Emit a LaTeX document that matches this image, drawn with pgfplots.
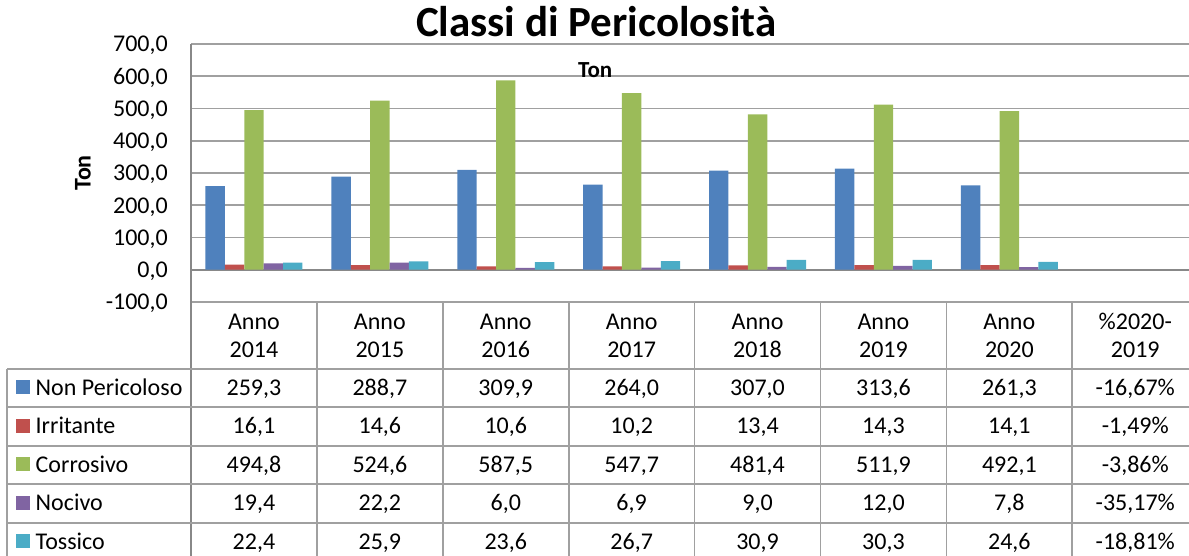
\documentclass[border=0pt]{standalone}
\usepackage{pgfplots}
\pgfplotsset{compat=1.18}
\usepackage{fontspec}
\setmainfont{Carlito}
\definecolor{cBlue}{HTML}{4F81BD}
\definecolor{cRed}{HTML}{C0504D}
\definecolor{cGreen}{HTML}{9BBB59}
\definecolor{cPurple}{HTML}{8064A2}
\definecolor{cCyan}{HTML}{4BACC6}
\definecolor{gridgray}{HTML}{A0A0A0}
\definecolor{axisgray}{HTML}{888888}
\newcommand\tf{\fontsize{24}{27}\selectfont}
\newcommand\cell[3]{\node[anchor=base, font=\tf, inner sep=0pt] at ({191+125.9*(#1+0.5)}, #2) {#3};}
\begin{document}
\begin{tikzpicture}
\begin{axis}[
  at={(191pt,254pt)}, anchor=south west,
  scale only axis, width=998pt, height=258pt,
  xmin=-0.5, xmax=7.427, ymin=-100, ymax=700,
  ytick={-100,0,100,200,300,400,500,600,700},
  xtick=\empty,
  ymajorgrids, grid style={draw=gridgray, line width=1.7pt},
  extra y ticks={0}, extra y tick labels={},
  extra y tick style={grid style={draw=axisgray, line width=1.9pt}},
  axis line style={draw=none},
  major tick length=0pt,
  yticklabel style={font=\tf, inner sep=0pt, xshift=-23pt, text depth=0pt,
    /pgf/number format/.cd, fixed, fixed zerofill, precision=1, use comma, 1000 sep={}, assume math mode=true},
  ylabel={Ton},
  ylabel style={font=\bfseries\fontsize{24}{27}\selectfont, at={(axis description cs:-0.1082,0.5)}, anchor=center},
  title={Classi di Pericolosità},
  title style={font=\bfseries\fontsize{43}{47}\selectfont, at={(axis description cs:0.406,1.004)}, anchor=base, inner sep=0pt},
  ybar=0pt, bar width=19.4pt,
  clip=false,
]
\addplot[fill=cBlue, draw=none] coordinates {(0,259.3) (1,288.7) (2,309.9) (3,264.0) (4,307.0) (5,313.6) (6,261.3)};
\addplot[fill=cRed, draw=none] coordinates {(0,16.1) (1,14.6) (2,10.6) (3,10.2) (4,13.4) (5,14.3) (6,14.1)};
\addplot[fill=cGreen, draw=none] coordinates {(0,494.8) (1,524.6) (2,587.5) (3,547.7) (4,481.4) (5,511.9) (6,492.1)};
\addplot[fill=cPurple, draw=none] coordinates {(0,19.4) (1,22.2) (2,6.0) (3,6.9) (4,9.0) (5,12.0) (6,7.8)};
\addplot[fill=cCyan, draw=none] coordinates {(0,22.4) (1,25.9) (2,23.6) (3,26.7) (4,30.9) (5,30.3) (6,24.6)};
\node[font=\bfseries\fontsize{23}{26}\selectfont, anchor=base, inner sep=0pt] at (axis description cs:0.405,0.872) {Ton};
\end{axis}
\begin{scope}[x=1pt, y=-1pt, yshift=556pt]
  % table grid
  \draw[axisgray, line width=1.9pt] (191,44) -- (191,556);
  \draw[gridgray, line width=1.7pt] (7,369) -- (7,556);
  \foreach \k in {1,...,7} {\draw[gridgray, line width=1.7pt] ({191+125.9*\k},302) -- ({191+125.9*\k},556);}
  \foreach \yy in {369,407,446,484,523} {\draw[gridgray, line width=1.7pt] (7,\yy) -- (1189,\yy);}
  % header
  \foreach \k/\yr in {0/2014,1/2015,2/2016,3/2017,4/2018,5/2019,6/2020} {\cell{\k}{329.5}{Anno}\cell{\k}{357.5}{\yr}}
  \cell{7}{329.5}{\%2020-}\cell{7}{357.5}{2019}
  % legend keys
  \fill[cBlue]   (16,380.5) rectangle (30,394.5);
  \fill[cRed]    (16,419) rectangle (30,433);
  \fill[cGreen]  (16,457.5) rectangle (30,471.5);
  \fill[cPurple] (16,496) rectangle (30,510);
  \fill[cCyan]   (16,534.5) rectangle (30,548.5);
  \foreach \yy/\nm in {395.5/Non Pericoloso,434/Irritante,472.5/Corrosivo,511/Nocivo,549.5/Tossico}
    {\node[anchor=base west, font=\tf, inner sep=0pt] at (35.5,\yy) {\nm};}
  % values
  \cell{0}{395.5}{259,3}\cell{1}{395.5}{288,7}\cell{2}{395.5}{309,9}\cell{3}{395.5}{264,0}\cell{4}{395.5}{307,0}\cell{5}{395.5}{313,6}\cell{6}{395.5}{261,3}\cell{7}{395.5}{-16,67\%}
  \cell{0}{434}{16,1}\cell{1}{434}{14,6}\cell{2}{434}{10,6}\cell{3}{434}{10,2}\cell{4}{434}{13,4}\cell{5}{434}{14,3}\cell{6}{434}{14,1}\cell{7}{434}{-1,49\%}
  \cell{0}{472.5}{494,8}\cell{1}{472.5}{524,6}\cell{2}{472.5}{587,5}\cell{3}{472.5}{547,7}\cell{4}{472.5}{481,4}\cell{5}{472.5}{511,9}\cell{6}{472.5}{492,1}\cell{7}{472.5}{-3,86\%}
  \cell{0}{511}{19,4}\cell{1}{511}{22,2}\cell{2}{511}{6,0}\cell{3}{511}{6,9}\cell{4}{511}{9,0}\cell{5}{511}{12,0}\cell{6}{511}{7,8}\cell{7}{511}{-35,17\%}
  \cell{0}{549.5}{22,4}\cell{1}{549.5}{25,9}\cell{2}{549.5}{23,6}\cell{3}{549.5}{26,7}\cell{4}{549.5}{30,9}\cell{5}{549.5}{30,3}\cell{6}{549.5}{24,6}\cell{7}{549.5}{-18,81\%}
\end{scope}
\pgfresetboundingbox
\path[use as bounding box] (0,0) rectangle (1189pt,556pt);
\end{tikzpicture}
\end{document}
